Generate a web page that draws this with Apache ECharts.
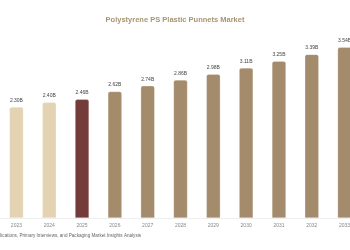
<!DOCTYPE html>
<html>
<head>
<meta charset="utf-8">
<script src="https://cdn.jsdelivr.net/npm/echarts@6/dist/echarts.min.js"></script>
<style>
  html, body { margin: 0; padding: 0; background: #fff; }
  #main { width: 350px; height: 250px; }
</style>
</head>
<body>
<div id="main"></div>
<script type="text/javascript">
	var years = ['2023', '2024', '2025', '2026', '2027', '2028', '2029', '2030', '2031', '2032', '2033'];
	var values = [2.30, 2.40, 2.46, 2.62, 2.74, 2.86, 2.98, 3.11, 3.25, 3.39, 3.54];
	var barColors = ['#e3d3b2', '#e3d3b2', '#733c3a', '#a38b6b', '#a38b6b', '#a38b6b', '#a38b6b', '#a38b6b', '#a38b6b', '#a38b6b', '#a38b6b'];

	var myChart = echarts.init(document.getElementById('main'));
	var option = {
		animation: false,
		title: {
			text: 'Polystyrene PS Plastic Punnets Market',
			left: 'center',
			top: 11,
			textStyle: { fontSize: 7.5, fontWeight: 'bold', color: '#a89472', fontFamily: 'Liberation Sans' }
		},
		// the plot runs past the right edge, last bar is cut off like the reference
		grid: { left: 0, top: 25, width: 361, bottom: 32, outerBoundsMode: 'none', containLabel: false },
		xAxis: {
			type: 'category',
			data: years,
			axisLine: { lineStyle: { color: '#eeeeee' } },
			axisTick: { show: false },
			axisLabel: { fontSize: 5, color: '#888', margin: 5, fontFamily: 'Liberation Sans' }
		},
		yAxis: {
			type: 'value',
			min: 0,
			max: 4,
			show: false
		},
		series: [{
			type: 'bar',
			barWidth: 14,
			data: values.map(function(v, i) {
				return { value: v, itemStyle: { color: barColors[i] } };
			}),
			itemStyle: { borderRadius: [2, 2, 0, 0], borderColor: 'rgba(255,255,255,0.5)', borderWidth: 0.5 },
			label: {
				show: true,
				position: 'top',
				distance: 4,
				fontSize: 5,
				color: '#444',
				fontFamily: 'Liberation Sans',
				formatter: function(p) { return p.value.toFixed(2) + 'B'; }
			}
		}],
		graphic: [{
			type: 'text',
			x: 141,
			y: 233,
			style: {
				text: 'Source: Company Publications, Primary Interviews, and Packaging Market Insights Analysis',
				fontSize: 4.6,
				fill: '#666',
				fontFamily: 'Liberation Sans',
				textAlign: 'right',
				textVerticalAlign: 'top'
			}
		}]
	};
	myChart.setOption(option);
</script>
</body>
</html>
